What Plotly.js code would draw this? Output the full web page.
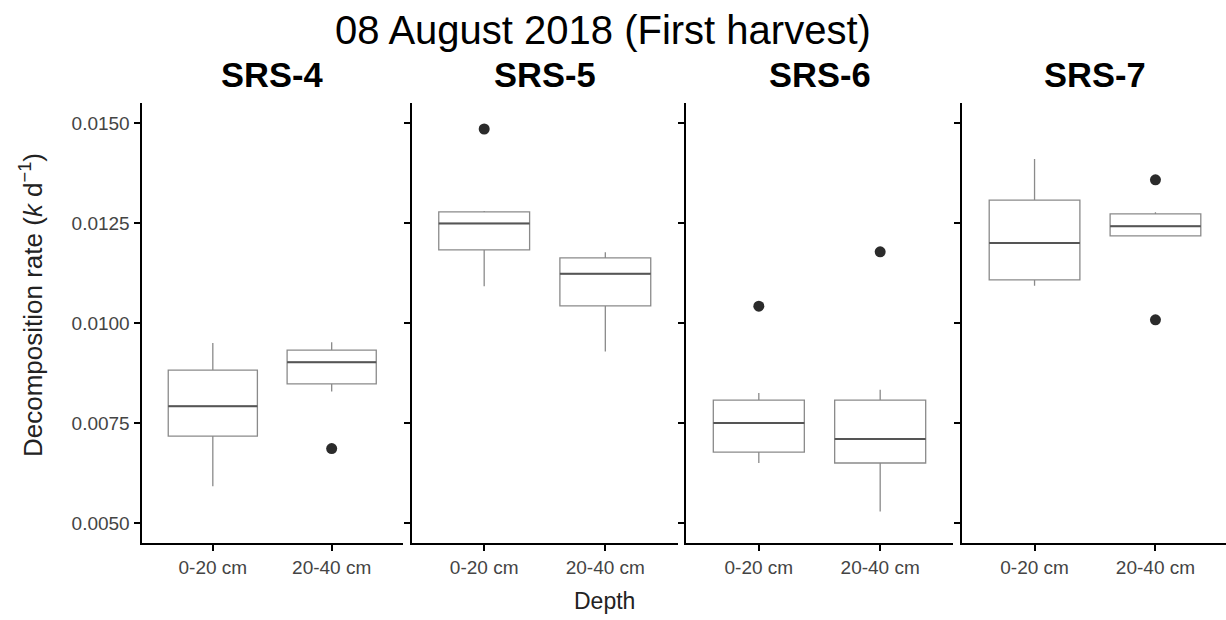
<!DOCTYPE html>
<html>
<head>
<meta charset="utf-8">
<script src="https://cdn.plot.ly/plotly-3.0.1.min.js"></script>
<style>html,body{margin:0;padding:0;background:#fff;}#chart{width:1226px;height:620px;}</style>
</head>
<body>
<div id="chart"></div>
<script>
// ---- data ----
const chartTitle = "08 August 2018 (First harvest)";
const sites = ["SRS-4", "SRS-5", "SRS-6", "SRS-7"];
const depths = ["0-20 cm", "20-40 cm"];
// per site: [0-20 cm, 20-40 cm]
const lowerWhisker = [[0.00592, 0.00829], [0.01092, 0.00929], [0.00650, 0.00529], [0.01093, 0.01217]];
const q1Values     = [[0.00717, 0.00848], [0.01183, 0.01043], [0.00677, 0.00650], [0.01108, 0.01218]];
const medianValues = [[0.00792, 0.00902], [0.01249, 0.01123], [0.00750, 0.00710], [0.01200, 0.01242]];
const q3Values     = [[0.00882, 0.00932], [0.01278, 0.01163], [0.00807, 0.00807], [0.01307, 0.01273]];
const upperWhisker = [[0.00950, 0.00952], [0.01280, 0.01177], [0.00825, 0.00833], [0.01410, 0.01277]];
// outliers
const outlierSite  = [0, 1, 2, 2, 3, 3];
const outlierDepth = ["20-40 cm", "0-20 cm", "0-20 cm", "20-40 cm", "20-40 cm", "20-40 cm"];
const outlierValue = [0.00686, 0.01485, 0.01042, 0.01178, 0.01358, 0.01008];
const yTicks = [0.0050, 0.0075, 0.0100, 0.0125, 0.0150];

// ---- layout geometry (pixels) ----
const W = 1226, H = 620;
const panelPx = [[141.5, 403], [411.5, 678], [686, 953], [962, 1226]];
const panelRanges = [[-0.6, 1.6], [-0.6, 1.6], [-0.6, 1.6], [-0.6, 1.6 - 2.2 * 2 / 266]];
const plotTop = 103, plotBottom = 543;

const font = "Liberation Sans, Arial, sans-serif";
const traces = [];
const layout = {
  width: W, height: H,
  margin: {l: 0, r: 0, t: 0, b: 0},
  paper_bgcolor: "#ffffff", plot_bgcolor: "#ffffff",
  showlegend: false,
  boxmode: "overlay",
  font: {family: font, color: "#000"},
  annotations: []
};

sites.forEach((site, i) => {
  const sfx = i === 0 ? "" : String(i + 1);
  const xa = "x" + sfx, ya = "y" + sfx;
  // box outline
  traces.push({
    type: "box", xaxis: xa, yaxis: ya,
    x: depths,
    q1: q1Values[i], median: medianValues[i], q3: q3Values[i],
    lowerfence: lowerWhisker[i], upperfence: upperWhisker[i],
    boxpoints: false, width: 0.75, whiskerwidth: 0,
    fillcolor: "#ffffff",
    line: {color: "#8a8a8a", width: 1.3},
    hoverinfo: "skip"
  });
  // darker median line drawn as a collapsed box
  traces.push({
    type: "box", xaxis: xa, yaxis: ya,
    x: depths,
    q1: medianValues[i], median: medianValues[i], q3: medianValues[i],
    lowerfence: medianValues[i], upperfence: medianValues[i],
    boxpoints: false, width: 0.75, whiskerwidth: 0,
    fillcolor: "rgba(0,0,0,0)",
    line: {color: "#555555", width: 2},
    hoverinfo: "skip"
  });
  // outliers
  const ox = [], oy = [];
  outlierSite.forEach((s, k) => { if (s === i) { ox.push(outlierDepth[k]); oy.push(outlierValue[k]); } });
  traces.push({
    type: "scatter", mode: "markers", xaxis: xa, yaxis: ya,
    x: ox, y: oy,
    marker: {color: "#2b2b2b", size: 11},
    hoverinfo: "skip"
  });

  layout["xaxis" + sfx] = {
    domain: [panelPx[i][0] / W, panelPx[i][1] / W],
    anchor: ya,
    type: "category",
    categoryorder: "array", categoryarray: depths,
    range: panelRanges[i],
    showgrid: false, zeroline: false,
    showline: true, linecolor: "#000", linewidth: 2,
    ticks: "outside", ticklen: 6, tickwidth: 2, tickcolor: "#000",
    tickfont: {family: font, size: 19, color: "#444"},
    fixedrange: true
  };
  layout["yaxis" + sfx] = {
    domain: [1 - plotBottom / H, 1 - plotTop / H],
    anchor: xa,
    range: [0.0045, 0.0155],
    tickvals: yTicks, tickformat: ".4f",
    showticklabels: i === 0,
    showgrid: false, zeroline: false,
    showline: true, linecolor: "#000", linewidth: 2,
    ticks: "outside", ticklen: 6, tickwidth: 2, tickcolor: "#000",
    tickfont: {family: font, size: 19, color: "#444"},
    fixedrange: true
  };
  if (i > 0) layout["yaxis" + sfx].matches = "y";

  layout.annotations.push({
    text: "<b>" + site + "</b>",
    xref: "paper", yref: "paper",
    x: (panelPx[i][0] + (i === 3 ? panelPx[i][0] + 266 : panelPx[i][1])) / 2 / W,
    y: 1 - 75 / H, xanchor: "center", yanchor: "middle",
    showarrow: false, font: {family: font, size: 34.5, color: "#000"}
  });
});

layout.annotations.push({
  text: chartTitle, xref: "paper", yref: "paper",
  x: 603 / W, y: 1 - 30 / H, xanchor: "center", yanchor: "middle",
  showarrow: false, font: {family: font, size: 40, color: "#000"}
});
layout.annotations.push({
  text: "Depth", xref: "paper", yref: "paper",
  x: 604 / W, y: 1 - 601 / H, xanchor: "center", yanchor: "middle",
  showarrow: false, font: {family: font, size: 23, color: "#222"}
});
layout.annotations.push({
  text: "Decomposition rate (<i>k</i> d<sup>−1</sup>)", xref: "paper", yref: "paper",
  x: 31 / W, y: 1 - 305 / H, xanchor: "center", yanchor: "middle", textangle: -90,
  showarrow: false, font: {family: font, size: 26, color: "#222"}
});

Plotly.newPlot("chart", traces, layout, {displayModeBar: false, staticPlot: true});
</script>
</body>
</html>
